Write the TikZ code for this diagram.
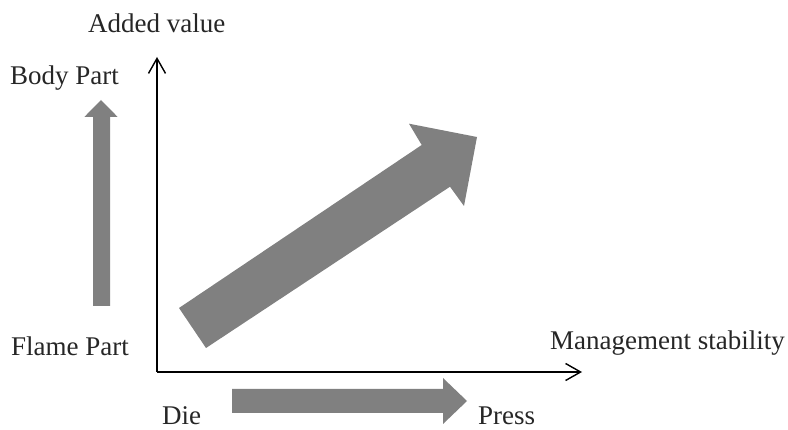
\documentclass[tikz,border=0pt]{standalone}
\usepackage{fontspec}
\setmainfont{Liberation Serif}
\usetikzlibrary{arrows.meta}
\begin{document}
\begin{tikzpicture}[x=1pt,y=-1pt,
  lbl/.style={anchor=base west,inner sep=0pt,font=\fontsize{27}{30}\selectfont,text=black!85},
  axis/.style={line width=1.4pt,-{Straight Barb[length=15pt,width=17pt,line width=1.4pt]}},
  blockarrow/.style={fill=black!50,draw=none}]
\useasboundingbox (0,0) rectangle (788,430);
% labels
\node[lbl] (added) at (88,33) {Added value};
\node[lbl] (body) at (10,85) {Body Part};
\node[lbl] (flame) at (11,356) {Flame Part};
\node[lbl] (mgmt) at (550,350) {Management stability};
\node[lbl] (die) at (162,425) {Die};
\node[lbl] (press) at (478,425) {Press};
% axes
\coordinate (origin) at (157,372);
\coordinate (ytop) at (157,57);
\coordinate (xend) at (582,372);
\draw[axis] (origin) -- (ytop);
\draw[axis] (origin) -- (xend);
% vertical block arrow
\fill[blockarrow] (93,306) -- (93,117) -- (84.3,117) -- (101,100) -- (117.7,117) -- (110,117) -- (110,306) -- cycle;
% horizontal block arrow
\fill[blockarrow] (232,389) -- (443,389) -- (443,378) -- (467,401) -- (443,424) -- (443,413) -- (232,413) -- cycle;
% diagonal block arrow
\fill[blockarrow] (179,308) -- (421.7,145) -- (409,123.7) -- (477,137) -- (464,206) -- (450,186.7) -- (206,348) -- cycle;
\end{tikzpicture}
\end{document}
